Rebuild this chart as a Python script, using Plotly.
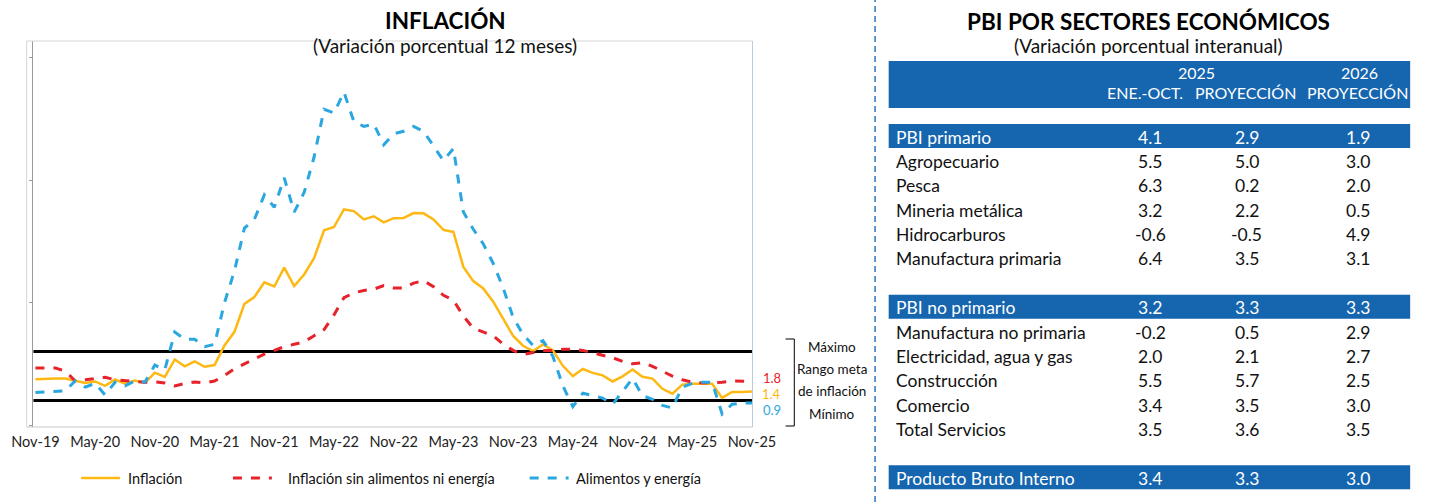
import pandas as pd
import plotly.graph_objects as go

# ---------------- data ----------------
months = [d.strftime("%b-%y") for d in pd.date_range("2019-11-01", "2025-11-01", freq="MS")]
tick_labels = ["Nov-19", "May-20", "Nov-20", "May-21", "Nov-21", "May-22", "Nov-22",
               "May-23", "Nov-23", "May-24", "Nov-24", "May-25", "Nov-25"]

inflacion = [1.87, 1.90,
             1.90, 1.90, 1.82, 1.72, 1.78, 1.60, 1.86, 1.69, 1.82, 1.72, 2.14, 1.97,
             2.68, 2.40, 2.60, 2.38, 2.45, 3.25, 3.81, 4.95, 5.23, 5.83, 5.66, 6.43,
             5.68, 6.15, 6.82, 7.96, 8.09, 8.81, 8.74, 8.40, 8.53, 8.28, 8.45, 8.46,
             8.66, 8.65, 8.40, 7.97, 7.89, 6.46, 5.88, 5.58, 5.04, 4.34, 3.64, 3.24,
             3.02, 3.29, 3.05, 2.42, 2.00, 2.29, 2.13, 2.03, 1.78, 1.99, 2.27, 1.97,
             1.90, 1.48, 1.28, 1.65, 1.69, 1.69, 1.69, 1.11, 1.35, 1.35, 1.37]

sin_alimentos = [2.33, 2.33,
                 2.33, 2.20, 1.80, 1.85, 1.90, 1.95, 1.85, 1.80, 1.78, 1.75, 1.76, 1.72,
                 1.60, 1.70, 1.76, 1.72, 1.80, 2.02, 2.30, 2.50, 2.70, 2.90, 3.05, 3.20,
                 3.30, 3.40, 3.65, 3.90, 4.50, 5.20, 5.40, 5.50, 5.55, 5.70, 5.60, 5.60,
                 5.80, 5.90, 5.65, 5.30, 5.10, 4.45, 3.95, 3.80, 3.65, 3.30, 3.05, 2.88,
                 2.95, 3.05, 3.05, 3.10, 3.10, 3.05, 2.95, 2.85, 2.75, 2.60, 2.50, 2.55,
                 2.40, 2.20, 2.00, 1.85, 1.75, 1.72, 1.72, 1.75, 1.80, 1.80, 1.78]

alimentos_energia = [1.33, 1.35,
                     1.35, 1.40, 1.80, 1.55, 1.70, 1.23, 1.75, 1.60, 1.80, 1.75, 2.45, 2.25,
                     3.80, 3.50, 3.50, 3.20, 3.30, 5.00, 6.30, 8.05, 8.40, 9.40, 8.90, 10.10,
                     8.70, 9.50, 10.95, 12.90, 12.75, 13.60, 12.40, 12.20, 12.30, 11.45, 11.90, 12.00,
                     12.20, 12.00, 11.40, 10.80, 11.30, 8.70, 8.00, 7.40, 6.60, 5.60, 4.40, 3.70,
                     3.25, 3.45, 2.80, 1.60, 0.75, 1.30, 1.20, 1.10, 0.85, 1.40, 1.90, 1.20,
                     1.05, 0.80, 0.70, 1.55, 1.70, 1.75, 1.75, 0.45, 0.85, 0.90, 0.90]

meta_max = 3.0
meta_min = 1.0

row_labels = ["PBI primario", "Agropecuario", "Pesca", "Mineria metálica", "Hidrocarburos",
              "Manufactura primaria", "", "PBI no primario", "Manufactura no primaria",
              "Electricidad, agua y gas", "Construcción", "Comercio", "Total Servicios", "",
              "Producto Bruto Interno"]
ene_oct_2025 = [4.1, 5.5, 6.3, 3.2, -0.6, 6.4, None, 3.2, -0.2, 2.0, 5.5, 3.4, 3.5, None, 3.4]
proy_2025 = [2.9, 5.0, 0.2, 2.2, -0.5, 3.5, None, 3.3, 0.5, 2.1, 5.7, 3.5, 3.6, None, 3.3]
proy_2026 = [1.9, 3.0, 2.0, 0.5, 4.9, 3.1, None, 3.3, 2.9, 2.7, 2.5, 3.0, 3.5, None, 3.0]
highlight_rows = ["PBI primario", "PBI no primario", "Producto Bruto Interno"]

# ---------------- styles ----------------
W, H = 1440, 502
YELLOW = "#FDB813"
RED = "#E8222B"
BLUE = "#2AA7E0"
TBLUE = "#1565AF"
SANS = "Lato, Open Sans, sans-serif"


def X(px):
    return px / W


def Y(py):
    return 1 - py / H


fig = go.Figure()
fig.add_trace(go.Scatter(x=months, y=inflacion, mode="lines", name="Inflación",
                         line=dict(color=YELLOW, width=2.5)))
fig.add_trace(go.Scatter(x=months, y=sin_alimentos, mode="lines",
                         name="Inflación sin alimentos ni energía",
                         line=dict(color=RED, width=3, dash="dash")))
fig.add_trace(go.Scatter(x=months, y=alimentos_energia, mode="lines",
                         name="Alimentos y energía",
                         line=dict(color=BLUE, width=3, dash="dash")))

plot_l, plot_r, plot_t, plot_b = 12, 758, 41, 427

fig.update_layout(
    width=W, height=H, margin=dict(l=0, r=0, t=0, b=0),
    paper_bgcolor="white", plot_bgcolor="white", showlegend=False,
    xaxis=dict(domain=[X(plot_l), X(plot_r)], type="category",
               categoryorder="array", categoryarray=months,
               range=[-0.88, 72.05], tickmode="array", tickvals=tick_labels,
               ticktext=tick_labels, ticks="", showgrid=False, zeroline=False,
               showline=False, ticklabelstandoff=4,
               tickfont=dict(family=SANS, size=14.5, color="#222")),
    yaxis=dict(domain=[Y(plot_b), Y(plot_t)], range=[-0.08, 15.69],
               anchor="free", position=X(17), showgrid=False, zeroline=False,
               showline=True, linecolor="#9a9a9a", linewidth=1,
               tickvals=[0, 5, 10, 15], ticks="outside", ticklen=3,
               tickcolor="#9a9a9a", showticklabels=False),
)

shapes = []
# plot frame
shapes.append(dict(type="line", xref="paper", yref="paper", x0=X(plot_l), x1=X(plot_r),
                   y0=Y(plot_t), y1=Y(plot_t), line=dict(color="#d6d6d6", width=1)))
shapes.append(dict(type="line", xref="paper", yref="paper", x0=X(plot_l), x1=X(plot_r),
                   y0=Y(plot_b), y1=Y(plot_b), line=dict(color="#c8c8c8", width=1)))
shapes.append(dict(type="line", xref="paper", yref="paper", x0=X(plot_l), x1=X(plot_l),
                   y0=Y(plot_t), y1=Y(plot_b), line=dict(color="#d6d6d6", width=1)))
shapes.append(dict(type="line", xref="paper", yref="paper", x0=X(plot_r), x1=X(plot_r),
                   y0=Y(plot_t), y1=Y(plot_b), line=dict(color="#bccbdd", width=1)))
# target range lines
for v in (meta_max, meta_min):
    shapes.append(dict(type="line", xref="x", yref="y", x0=-0.2, x1=72, y0=v, y1=v,
                       line=dict(color="black", width=3), layer="below"))
# bracket
shapes.append(dict(type="line", xref="paper", yref="paper", x0=X(801), x1=X(801),
                   y0=Y(339), y1=Y(426), line=dict(color="black", width=1)))
for py in (339, 426):
    shapes.append(dict(type="line", xref="paper", yref="paper", x0=X(792), x1=X(801),
                       y0=Y(py), y1=Y(py), line=dict(color="black", width=1)))
# legend samples
leg_y = 478
shapes.append(dict(type="line", xref="paper", yref="paper", x0=X(68), x1=X(108),
                   y0=Y(leg_y), y1=Y(leg_y), line=dict(color=YELLOW, width=2.5)))
shapes.append(dict(type="line", xref="paper", yref="paper", x0=X(224), x1=X(264),
                   y0=Y(leg_y), y1=Y(leg_y), line=dict(color=RED, width=3, dash="dash")))
shapes.append(dict(type="line", xref="paper", yref="paper", x0=X(529), x1=X(569),
                   y0=Y(leg_y), y1=Y(leg_y), line=dict(color=BLUE, width=3, dash="dash")))
# divider
shapes.append(dict(type="line", xref="paper", yref="paper", x0=X(884), x1=X(884),
                   y0=0, y1=1, line=dict(color="#2b74c1", width=1.5, dash="6px,4px")))

ann = []


def text(px, py, s, size=15, color="#111", family=SANS, anchor="center", bold=False):
    if bold:
        s = "<b>" + s + "</b>"
    ann.append(dict(xref="paper", yref="paper", x=X(px), y=Y(py), text=s, showarrow=False,
                    xanchor=anchor, yanchor="middle", borderpad=0,
                    font=dict(size=size, color=color, family=family)))


# left titles
text(442, 21, "INFLACIÓN", size=22.5, bold=True, color="#000")
text(442, 45, "(Variación porcentual 12 meses)", size=19)
# end labels
text(778, 378, f"{sin_alimentos[-1]:.1f}", size=13, color=RED)
text(778, 394, f"{inflacion[-1]:.1f}", size=13, color=YELLOW)
text(778, 410, f"{alimentos_energia[-1]:.1f}", size=13, color=BLUE)
# bracket texts
text(840, 347, "Máximo", size=13.5)
text(840, 369, "Rango meta", size=13.5)
text(840, 391, "de inflación", size=13.5)
text(840, 414, "Mínimo", size=13.5)
# legend texts
text(115, leg_y, "Inflación", size=14.5, anchor="left")
text(280, leg_y, "Inflación sin alimentos ni energía", size=14.5, anchor="left")
text(576, leg_y, "Alimentos y energía", size=14.5, anchor="left")

# right table
text(1165, 22, "PBI POR SECTORES ECONÓMICOS", size=22.5, bold=True, color="#000")
text(1165, 45, "(Variación porcentual interanual)", size=19)

tbl_l, tbl_r = 898, 1434
shapes.append(dict(type="rect", xref="paper", yref="paper", x0=X(tbl_l), x1=X(tbl_r),
                   y0=Y(108), y1=Y(61), fillcolor=TBLUE, line=dict(width=0), layer="below"))
col_x = [1167, 1266, 1380]
hdr_x = [1161, 1265, 1380]
text(1214, 73, "2025", size=16, color="white")
text(1382, 73, "2026", size=16, color="white")
text(hdr_x[0], 92, "ENE.-OCT.", size=16, color="white")
text(hdr_x[1], 92, "PROYECCIÓN", size=16, color="white")
text(hdr_x[2], 92, "PROYECCIÓN", size=16, color="white")

row_y0, row_dy = 137, 24.38
for i, lab in enumerate(row_labels):
    if not lab:
        continue
    py = row_y0 + i * row_dy
    hl = lab in highlight_rows
    col = "white" if hl else "#111"
    if hl:
        shapes.append(dict(type="rect", xref="paper", yref="paper", x0=X(tbl_l), x1=X(tbl_r),
                           y0=Y(py + 11), y1=Y(py - 13), fillcolor=TBLUE,
                           line=dict(width=0), layer="below"))
    text(904, py, lab, size=17.5, color=col, anchor="left")
    for cx, arr in zip(col_x, (ene_oct_2025, proy_2025, proy_2026)):
        text(cx, py, f"{arr[i]:.1f}", size=17.5, color=col)

fig.update_layout(shapes=shapes, annotations=ann)
fig.write_html("out.html")
